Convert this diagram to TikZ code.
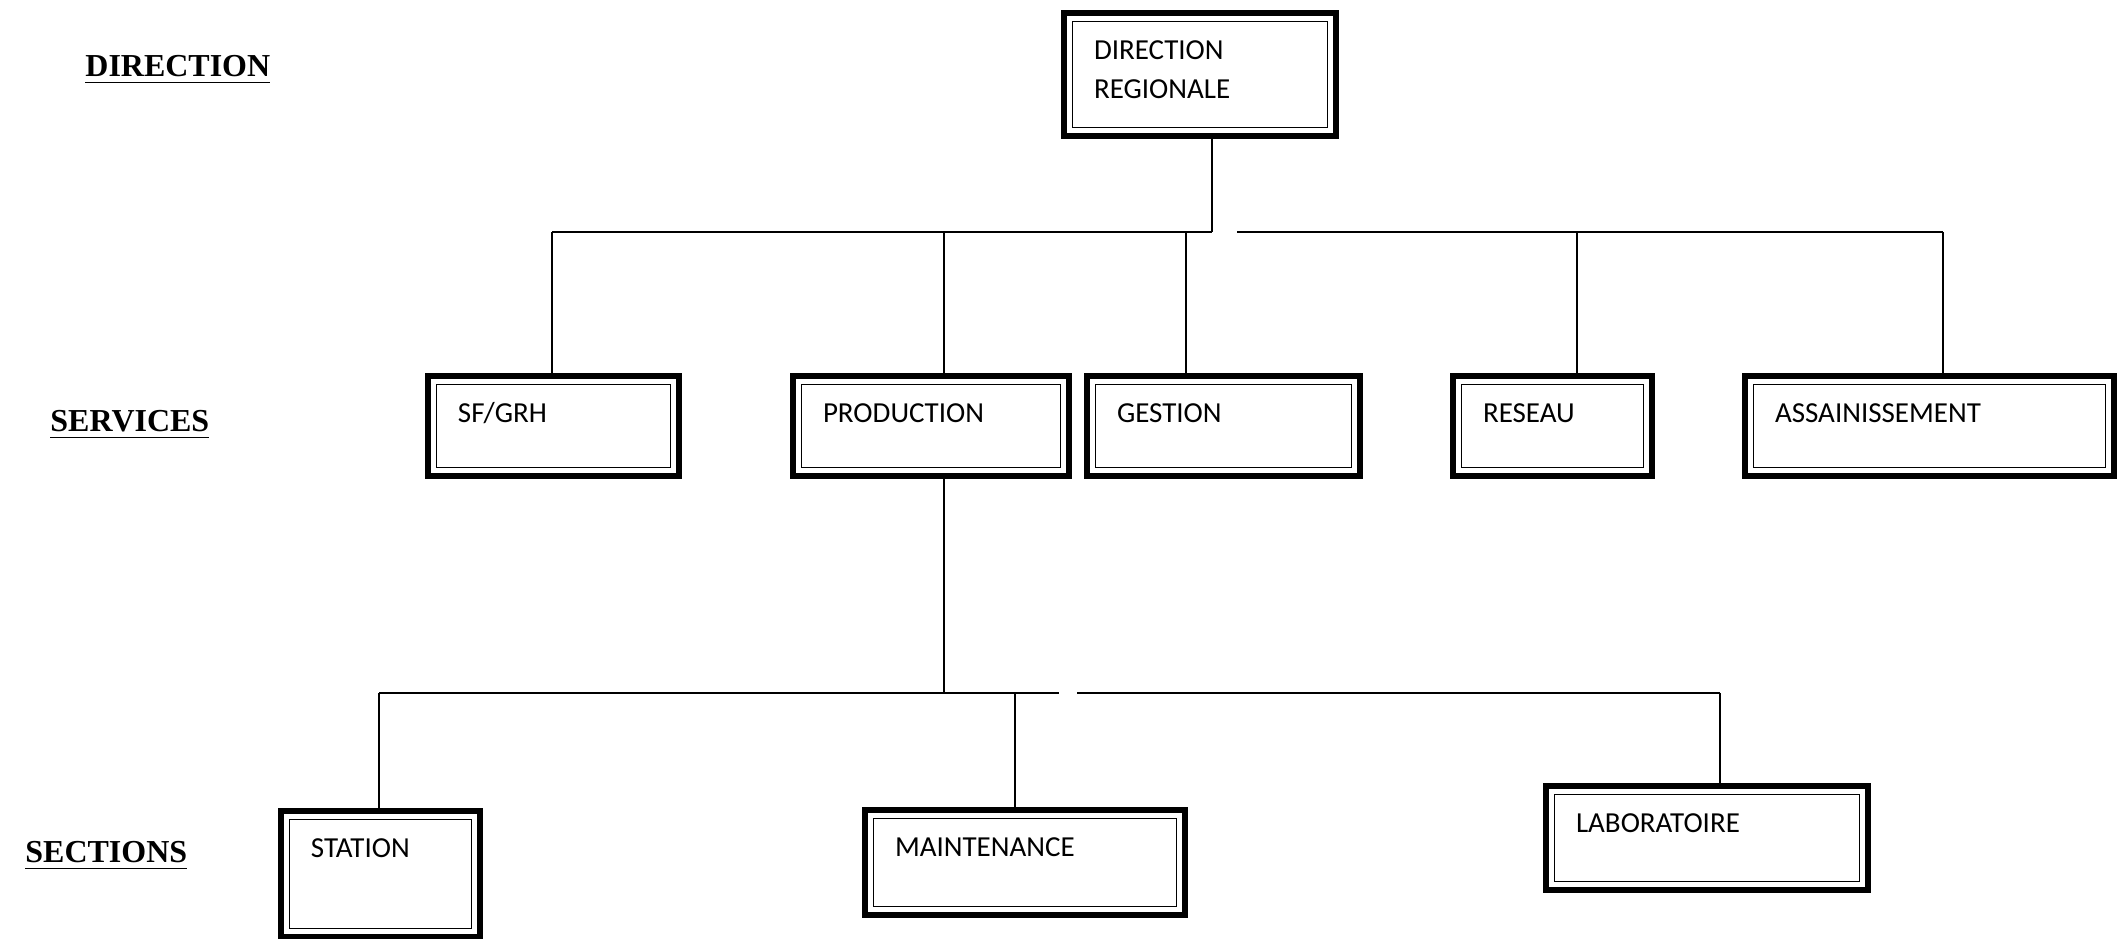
\documentclass[tikz,border=0pt]{standalone}
\usepackage{fontspec}
\setmainfont{Liberation Serif}
\newfontfamily\boxfont{Carlito}
\usepackage{tikz}

\begin{document}
\begin{tikzpicture}[
    unit/.style={draw, line width=1.7pt, outer sep=0.85pt, anchor=north west,
      inner xsep=0.3cm, inner ysep=0pt, text height=0.47cm, align=left,
      font=\boxfont\fontsize{8.25}{11.1}\selectfont,
      path picture={\draw[line width=0.45pt]
        ([shift={(0.085,0.085)}]path picture bounding box.south west) rectangle
        ([shift={(-0.085,-0.085)}]path picture bounding box.north east);}},
    level/.style={anchor=base west, font=\bfseries\fontsize{9.1}{11}\selectfont}]
    \useasboundingbox (0,0) rectangle (21.17,9.39);

    % levels
    \node[level] (ldir) at (0.73,8.62) {\underline{DIRECTION}};
    \node[level] (lser) at (0.38,5.07) {\underline{SERVICES}};
    \node[level] (lsec) at (0.13,0.76) {\underline{SECTIONS}};

    % boxes
    \node[unit, text width=2.12cm, text depth=0.76cm] (dr) at (10.61,9.29) {DIRECTION\\REGIONALE};
    \node[unit, text width=1.91cm, text depth=0.53cm] (sf) at (4.25,5.66) {SF/GRH};
    \node[unit, text width=2.16cm, text depth=0.53cm] (prod) at (7.90,5.66) {PRODUCTION};
    \node[unit, text width=2.13cm, text depth=0.53cm] (gest) at (10.84,5.66) {GESTION};
    \node[unit, text width=1.39cm, text depth=0.53cm] (res) at (14.50,5.66) {RESEAU};
    \node[unit, text width=3.09cm, text depth=0.53cm] (ass) at (17.42,5.66) {ASSAINISSEMENT};
    \node[unit, text width=1.39cm, text depth=0.79cm] (sta) at (2.78,1.31) {STATION};
    \node[unit, text width=2.60cm, text depth=0.58cm] (mai) at (8.62,1.32) {MAINTENANCE};
    \node[unit, text width=2.62cm, text depth=0.57cm] (lab) at (15.43,1.56) {LABORATOIRE};

    % connectors
    \coordinate (j1) at (12.12,7.07);
    \coordinate (j2) at (9.44,2.46);
    \draw (dr.south -| j1) -- (j1);
    \draw (5.52,7.07) -- (j1);
    \draw (12.37,7.07) -- (19.43,7.07);
    \foreach \n/\x in {sf/5.52, prod/9.44, gest/11.86, res/15.77, ass/19.43}
      \draw (\x,7.07) -- (\x,7.07 |- \n.north);
    \draw (prod.south -| j2) -- (j2);
    \draw (3.79,2.46) -- (10.59,2.46);
    \draw (10.77,2.46) -- (17.20,2.46);
    \foreach \n/\x in {sta/3.79, mai/10.15, lab/17.20}
      \draw (\x,2.46) -- (\x,2.46 |- \n.north);
\end{tikzpicture}
\end{document}
